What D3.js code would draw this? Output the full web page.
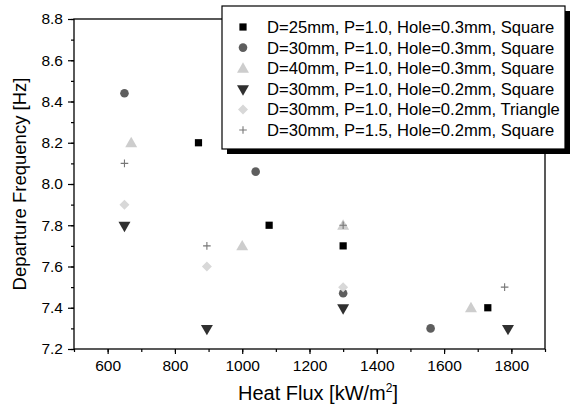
<!DOCTYPE html>
<html>
<head>
<meta charset="utf-8">
<script src="https://cdn.jsdelivr.net/npm/d3@7"></script>
<style>
  body { margin: 0; background: #fff; }
  svg { font-family: "Liberation Sans", Arial, sans-serif; }
</style>
</head>
<body>
<script>
// departure frequency vs heat flux, six plate configurations

var seriesNames = [
  'D=25mm, P=1.0, Hole=0.3mm, Square',
  'D=30mm, P=1.0, Hole=0.3mm, Square',
  'D=40mm, P=1.0, Hole=0.3mm, Square',
  'D=30mm, P=1.0, Hole=0.2mm, Square',
  'D=30mm, P=1.0, Hole=0.2mm, Triangle',
  'D=30mm, P=1.5, Hole=0.2mm, Square'
];

var d25 = [[870, 8.2], [1080, 7.8], [1300, 7.7], [1730, 7.4]];
var d30 = [[650, 8.44], [1040, 8.06], [1300, 7.47], [1560, 7.3]];
var d40 = [[670, 8.2], [1000, 7.7], [1300, 7.8], [1680, 7.4]];
var hole02 = [[650, 7.8], [895, 7.3], [1300, 7.4], [1790, 7.3]];
var triangle = [[650, 7.9], [895, 7.6], [1300, 7.5]];
var pitch15 = [[650, 8.1], [895, 7.7], [1300, 7.8], [1780, 7.5]];

var xTicks = [600, 800, 1000, 1200, 1400, 1600, 1800];
var yTicks = [7.2, 7.4, 7.6, 7.8, 8.0, 8.2, 8.4, 8.6, 8.8];

var allSeries = [d25, d30, d40, hole02, triangle, pitch15];
var colors = ['#000000', '#5e5e5e', '#cdcdcd', '#303030', '#d8d8d8', '#777777'];
var symbols = ['square', 'circle', 'up', 'down', 'diamond', 'plus'];
var sizes = [52, 58, 62, 62, 0, 0];

var width = 576, height = 411;
var margin = {left: 74, top: 19, right: 31, bottom: 62};

var svg = d3.select('body').append('svg')
  .attr('width', width).attr('height', height);

var x = d3.scaleLinear().domain([500, 1900]).range([margin.left, width - margin.right]);
var y = d3.scaleLinear().domain([7.2, 8.8]).range([height - margin.bottom, margin.top]);

// minor ticks
var xMinor = d3.range(500, 1901, 100);
var yMinor = d3.range(72, 89, 1).map(function(v){ return v / 10; });

var xAxisG = svg.append('g').attr('transform', `translate(0,${y(7.2)})`);
xAxisG.call(d3.axisBottom(x).tickValues(xMinor).tickSize(3).tickFormat(''));
xAxisG.append('g').call(d3.axisBottom(x).tickValues(xTicks).tickSize(5).tickPadding(6).tickFormat(d3.format('d')));

var yAxisG = svg.append('g').attr('transform', `translate(${x(500)},0)`);
yAxisG.call(d3.axisLeft(y).tickValues(yMinor).tickSize(3).tickFormat(''));
yAxisG.append('g').call(d3.axisLeft(y).tickValues(yTicks).tickSize(6).tickPadding(5).tickFormat(d3.format('.1f')));

svg.selectAll('.domain').remove();
svg.selectAll('.tick line').attr('stroke', '#000').attr('stroke-width', 1.2);
svg.selectAll('.tick text').attr('font-size', 15.5).attr('fill', '#000')
  .attr('font-family', '"Liberation Sans", Arial, sans-serif');

// frame
svg.append('rect')
  .attr('x', x(500)).attr('y', y(8.8))
  .attr('width', x(1900) - x(500)).attr('height', y(7.2) - y(8.8))
  .attr('fill', 'none').attr('stroke', '#000').attr('stroke-width', 1.3);

function markerPath(i){
  var s = symbols[i];
  if (s === 'plus') return 'M-3.8,0H3.8M0,-3.8V3.8';
  if (s === 'diamond') return 'M0,-5L5,0L0,5L-5,0Z';
  if (s === 'square') return d3.symbol().type(d3.symbolSquare).size(sizes[i])();
  if (s === 'circle') return d3.symbol().type(d3.symbolCircle).size(sizes[i])();
  return d3.symbol().type(d3.symbolTriangle).size(sizes[i])();
}

function drawMarker(g, i, px, py){
  var p = g.append('path').attr('d', markerPath(i));
  if (symbols[i] === 'plus') {
    p.attr('fill', 'none').attr('stroke', colors[i]).attr('stroke-width', 1.1);
  } else {
    p.attr('fill', colors[i]);
  }
  var t = `translate(${px},${py})`;
  if (symbols[i] === 'down') t += ' rotate(180)';
  if (symbols[i] === 'up') t += ' translate(0,1)';
  p.attr('transform', t);
}

var pointsG = svg.append('g');
allSeries.forEach(function(s, i){
  s.forEach(function(d){
    drawMarker(pointsG, i, x(d[0]), y(d[1]));
  });
});

// legend
var lg = svg.append('g');
var lx = 222, ly = 6, lw = 343, lh = 143;
lg.append('rect').attr('x', lx + 5).attr('y', ly + 5).attr('width', lw).attr('height', lh).attr('fill', '#000');
lg.append('rect').attr('x', lx).attr('y', ly).attr('width', lw).attr('height', lh)
  .attr('fill', '#fff').attr('stroke', '#000').attr('stroke-width', 1.2);

seriesNames.forEach(function(name, i){
  var ry = 27 + i * 20.6;
  drawMarker(lg, i, 243, ry);
  lg.append('text').attr('x', 267).attr('y', ry + 6)
    .attr('font-size', 16.6).text(name);
});

// axis titles
var xt = svg.append('text').attr('x', 318).attr('y', 400)
  .attr('text-anchor', 'middle').attr('font-size', 20);
xt.append('tspan').text('Heat Flux [kW/m');
xt.append('tspan').attr('font-size', 12).attr('dy', -8).text('2');
xt.append('tspan').attr('dy', 8).text(']');

svg.append('text')
  .attr('transform', `translate(26,${(y(7.2) + y(8.8)) / 2}) rotate(-90)`)
  .attr('text-anchor', 'middle').attr('font-size', 18.5)
  .text('Departure Frequency [Hz]');
</script>
</body>
</html>
